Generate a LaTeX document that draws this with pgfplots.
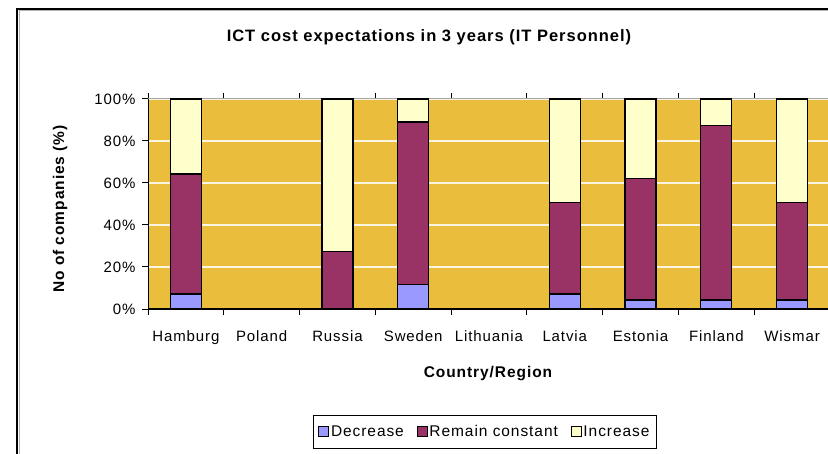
\documentclass[border=0pt]{standalone}
\usepackage{fontspec}
\setmainfont{Liberation Sans}[LetterSpace=6]
\usepackage{pgfplots}
\pgfplotsset{compat=1.18}
\definecolor{plotbg}{RGB}{234,190,60}
\definecolor{dec}{RGB}{153,153,255}
\definecolor{rem}{RGB}{153,51,102}
\definecolor{inc}{RGB}{255,255,204}
\begin{document}
\begin{tikzpicture}
\fill[white] (0pt,0pt) rectangle (828pt,453pt);
\draw[gray!60, line width=1pt] (19pt,-20pt) -- (19pt,442pt) -- (850pt,442pt);
\draw[black, line width=2pt] (17pt,-20pt) -- (17pt,444pt) -- (850pt,444pt);
\begin{axis}[
  at={(148pt,144pt)}, anchor=south west, scale only axis,
  width=682pt, height=210pt,
  xmin=-0.5, xmax=8.5, ymin=0, ymax=100,
  ybar stacked, bar width=0.41,
  axis background/.style={fill=plotbg},
  axis line style={draw=gray!70, line width=1pt},
  tick align=outside, major tick length=6pt,
  tick style={black, line width=1pt},
  xtick={-0.5,0.5,1.5,2.5,3.5,4.5,5.5,6.5,7.5,8.5}, xticklabels={},
  extra x ticks={0,1,2,3,4,5,6,7,8},
  extra x tick labels={Hamburg,Poland,Russia,Sweden,Lithuania,Latvia,Estonia,Finland,Wismar},
  extra x tick style={major tick length=0pt},
  xticklabel style={font=\fontsize{15}{18}\selectfont, anchor=base, yshift=-32pt},
  ytick={0,20,40,60,80,100},
  yticklabel={\pgfmathprintnumber{\tick}\%},
  yticklabel style={font=\fontsize{15}{18}\selectfont, xshift=-3pt},
  /pgf/number format/assume math mode=true,
  ymajorgrids, grid style={white!85!plotbg, line width=1.6pt},
  legend columns=3,
  legend style={at={(0.242,-0.505)}, anchor=north west, draw=black, line width=0.8pt,
     font=\fontsize{15.5}{18}\selectfont, inner xsep=5pt, inner ysep=8pt,
     /tikz/every even column/.append style={column sep=11pt}},
  legend image code/.code={\draw[#1, draw=black, line width=0.6pt] (0pt,-4pt) rectangle (10pt,6pt);},
]
\addplot[fill=dec, draw=black, line width=1.2pt] coordinates {(0,7.1) (2,0) (3,11.7) (5,7.1) (6,4.3) (7,4.3) (8,4.3)};
\addplot[fill=rem, draw=black, line width=1.2pt] coordinates {(0,57.2) (2,27.3) (3,77.3) (5,43.8) (6,57.9) (7,83.1) (8,46.6)};
\addplot[fill=inc, draw=black, line width=1.2pt] coordinates {(0,35.7) (2,72.7) (3,11.0) (5,49.1) (6,37.8) (7,12.6) (8,49.1)};
\legend{Decrease,Remain constant,Increase}
\draw[black, line width=1.5pt] (rel axis cs:0,1) -- (rel axis cs:0,0) -- (rel axis cs:1,0);
\end{axis}
\node[font=\fontsize{16.5}{20}\selectfont\bfseries] at (429pt,416pt) {ICT cost expectations in 3 years (IT Personnel)};
\node[font=\fontsize{15.5}{18}\selectfont\bfseries, rotate=90] at (60pt,244pt) {No of companies (\%)};
\node[font=\fontsize{15.5}{18}\selectfont\bfseries] at (488pt,79pt) {Country/Region};
\pgfresetboundingbox
\useasboundingbox (0pt,0pt) rectangle (828pt,453pt);
\end{tikzpicture}
\end{document}
